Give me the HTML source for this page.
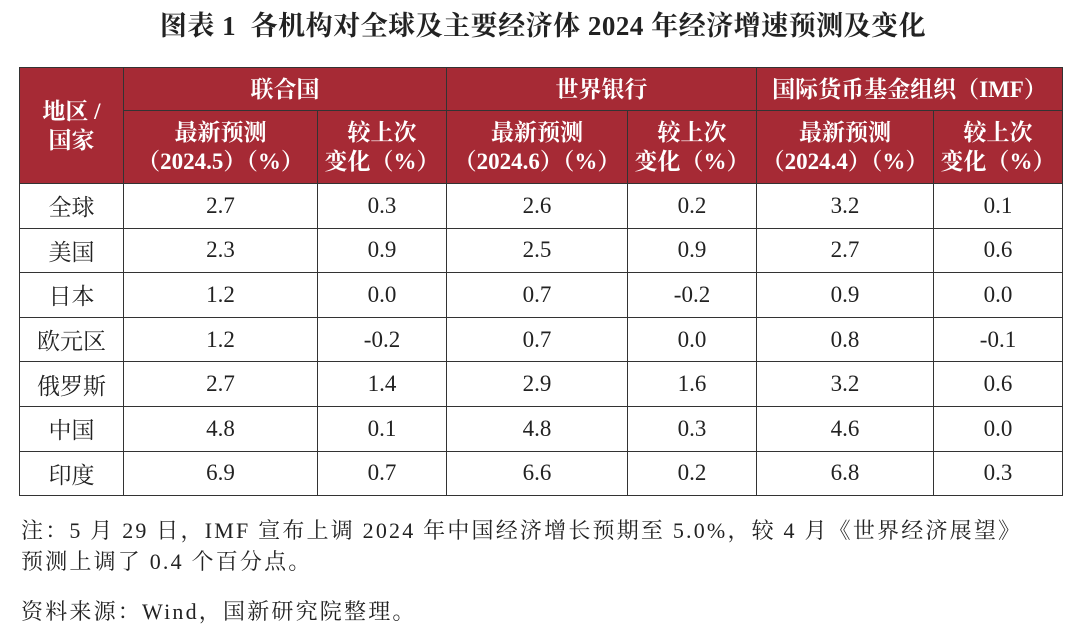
<!DOCTYPE html>
<html><head><meta charset="utf-8"><style>
body{margin:0;width:1086px;height:637px;background:#fff;font-family:"Liberation Serif","Noto Serif CJK SC",serif;color:#222;position:relative;overflow:hidden}
#title{position:absolute;left:0;top:7px;width:1086px;text-align:center;font-size:27px;font-weight:bold;line-height:38px;color:#222;letter-spacing:0.5px}
table{position:absolute;left:19px;top:67px;border-collapse:collapse;table-layout:fixed}
td,th{border:1.5px solid #333;text-align:center;padding:0}
th{background:#a62a35;color:#fff;font-size:23px;font-weight:bold;line-height:29px}
td{font-size:23px;height:43px}
.note{position:absolute;left:21px;font-size:22px;line-height:31px;color:#222;letter-spacing:2.2px}
</style></head><body>
<div id="title">图表 1&nbsp; 各机构对全球及主要经济体 2024 年经济增速预测及变化</div>
<table>
<colgroup><col style="width:104px"><col style="width:194px"><col style="width:129px"><col style="width:181px"><col style="width:129px"><col style="width:177px"><col style="width:129px"></colgroup>
<tr style="height:43px">
<th rowspan="2">地区 /<br>国家</th>
<th colspan="2">联合国</th>
<th colspan="2">世界银行</th>
<th colspan="2">国际货币基金组织（IMF）</th></tr>
<tr style="height:73px">
<th>最新预测<br>（2024.5）（%）</th><th>较上次<br>变化（%）</th>
<th>最新预测<br>（2024.6）（%）</th><th>较上次<br>变化（%）</th>
<th>最新预测<br>（2024.4）（%）</th><th>较上次<br>变化（%）</th></tr>
<tr style="height:44.6px"><td>全球</td><td>2.7</td><td>0.3</td><td>2.6</td><td>0.2</td><td>3.2</td><td>0.1</td></tr>
<tr style="height:44.6px"><td>美国</td><td>2.3</td><td>0.9</td><td>2.5</td><td>0.9</td><td>2.7</td><td>0.6</td></tr>
<tr style="height:44.6px"><td>日本</td><td>1.2</td><td>0.0</td><td>0.7</td><td>-0.2</td><td>0.9</td><td>0.0</td></tr>
<tr style="height:44.6px"><td>欧元区</td><td>1.2</td><td>-0.2</td><td>0.7</td><td>0.0</td><td>0.8</td><td>-0.1</td></tr>
<tr style="height:44.6px"><td>俄罗斯</td><td>2.7</td><td>1.4</td><td>2.9</td><td>1.6</td><td>3.2</td><td>0.6</td></tr>
<tr style="height:44.6px"><td>中国</td><td>4.8</td><td>0.1</td><td>4.8</td><td>0.3</td><td>4.6</td><td>0.0</td></tr>
<tr style="height:44.6px"><td>印度</td><td>6.9</td><td>0.7</td><td>6.6</td><td>0.2</td><td>6.8</td><td>0.3</td></tr>
</table>
<div class="note" style="top:515px;white-space:nowrap">注：5 月 29 日，IMF 宣布上调 2024 年中国经济增长预期至 5.0%，较 4 月《世界经济展望》<br>预测上调了 0.4 个百分点。</div>
<div class="note" style="top:596px">资料来源：Wind，国新研究院整理。</div>
</body></html>
